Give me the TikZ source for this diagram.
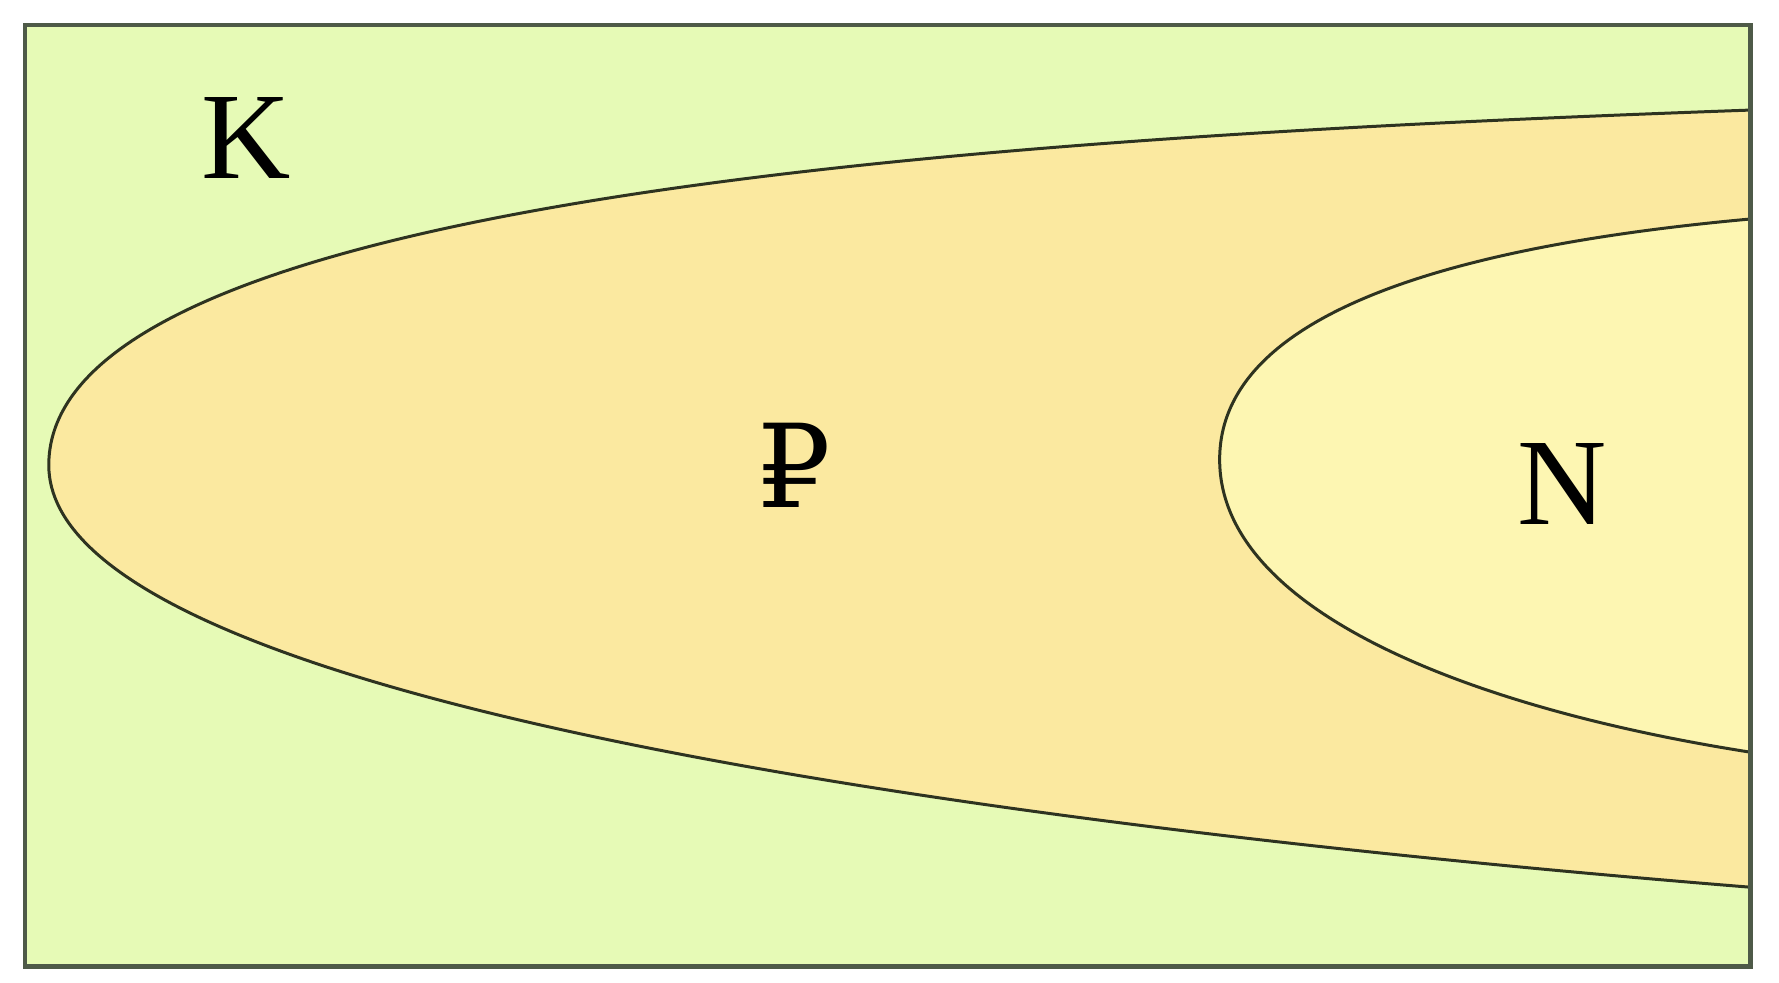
\documentclass[tikz,border=0pt]{standalone}
\usepackage{fontspec}
\setmainfont{Liberation Serif}
\newfontfamily\rublefont{DejaVu Serif}
\usetikzlibrary{positioning}
\definecolor{cgreen}{HTML}{E6FAB6}
\definecolor{corange}{HTML}{FBE9A0}
\definecolor{cyellow}{HTML}{FDF6B2}
\definecolor{cframe}{HTML}{4E5A48}
\definecolor{cline}{HTML}{2E3320}
\tikzset{
  every picture/.style={x=0.01cm, y=-0.01cm},
  frame/.style={draw=cframe, line width=1.1pt},
  region/.style={draw=cline, line width=0.75pt},
  setname/.style={font=\fontsize{31}{36}\selectfont, inner sep=0pt},
}

\begin{document}
\begin{tikzpicture}
  \useasboundingbox (0,0) rectangle (1568,866);
  \fill[white] (0,0) rectangle (1568,866);
  \fill[cgreen] (22,22) rectangle (1543,852);
  % outer region
  \fill[corange] (1543,97) .. controls (900,120) and (43,170) .. (43,410)
    .. controls (43,620) and (900,730) .. (1543,782) -- cycle;
  \draw[region] (1543,97) .. controls (900,120) and (43,170) .. (43,410)
    .. controls (43,620) and (900,730) .. (1543,782);
  % inner region
  \fill[cyellow] (1543,193) .. controls (1300,215) and (1075,270) .. (1075,405)
    .. controls (1075,540) and (1300,625) .. (1543,663) -- cycle;
  \draw[region] (1543,193) .. controls (1300,215) and (1075,270) .. (1075,405)
    .. controls (1075,540) and (1300,625) .. (1543,663);
  \draw[frame] (22,22) rectangle (1543,852);
  \node[setname] (lblK) at (217,122) {K};
  \node[setname, font=\fontsize{29}{34}\selectfont\rublefont] (lblP) at (700,410) {₽};
  \node[setname] (lblN) at (1377,427) {N};
\end{tikzpicture}
\end{document}
